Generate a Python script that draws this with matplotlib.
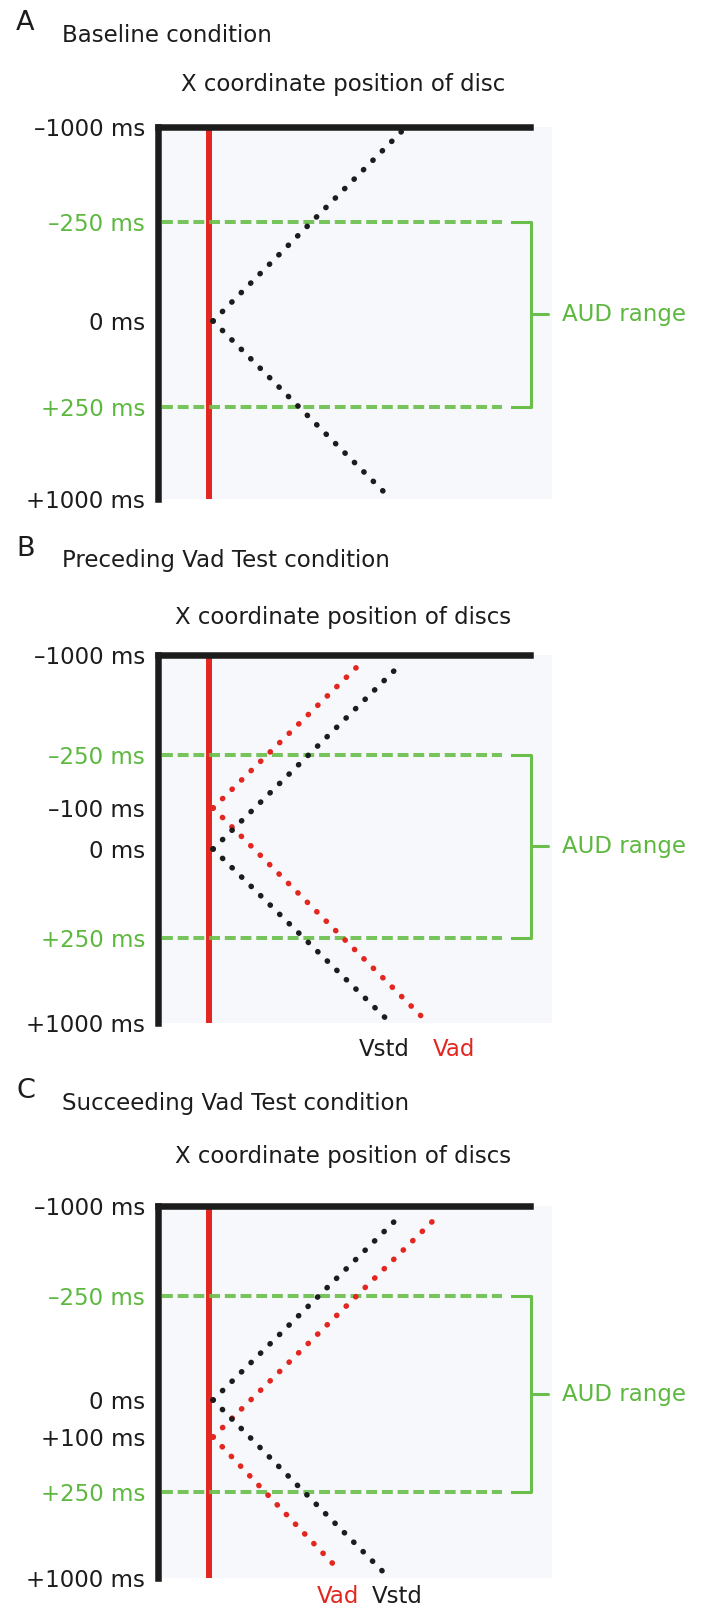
import numpy as np
import matplotlib
matplotlib.use('Agg')
from matplotlib import pyplot as plt

# time ticks (ms) and where each sits on the schematic time axis (px below the top bar)
a_tick_ms = [-1000, -250, 0, 250, 1000]
a_tick_rows = [0, 95, 194, 280, 372]
a_tick_labels = ['\u20131000 ms', '\u2013250 ms', '0 ms', '+250 ms', '+1000 ms']

b_tick_ms = [-1000, -250, -100, 0, 250, 1000]
b_tick_rows = [0, 100, 153, 194, 283, 368]
b_tick_labels = ['\u20131000 ms', '\u2013250 ms', '\u2013100 ms', '0 ms', '+250 ms', '+1000 ms']

c_tick_ms = [-1000, -250, 0, 100, 250, 1000]
c_tick_rows = [0, 90, 194, 231, 286, 372]
c_tick_labels = ['\u20131000 ms', '\u2013250 ms', '0 ms', '+100 ms', '+250 ms', '+1000 ms']

# disc trajectories: [start, flash (vertex), end] as (x position, time ms)
a_std_x = [244, 55, 231]
a_std_ms = [-968, 0, 984]

b_std_x = [244, 55, 232]
b_std_ms = [-940, 0, 995]
b_vad_x = [204, 55, 269]
b_vad_ms = [-948, -100, 990]

c_std_x = [245, 55, 231]
c_std_ms = [-942, 0, 998]
c_vad_x = [283, 55, 183]
c_vad_ms = [-942, 100, 950]

flash_x = 51
aud_range = [-250, 250]

W, H = 707, 1610
fs = 16.5
black = '#1c1c1c'
red = '#e3261f'
green = '#6abf4b'
green_txt = '#5db840'
bg = '#f6f8fb'

fig = plt.figure(figsize=(W / 100, H / 100), dpi=100)


def fx(px):
    return px / W


def fy(px):
    return 1 - px / H


def dotted(ax, xs, ms, color):
    # two branches going out from the vertex
    for sl in (slice(1, None, -1), slice(1, None)):
        ax.plot(xs[sl], ms[sl], color=color, lw=4.0, linestyle=(0, (0.05, 2.35)),
                dash_capstyle='round', zorder=4)


def panel(top, bottom, tick_ms, tick_rows, tick_labels):
    ax = fig.add_axes([fx(158), fy(bottom), fx(394), (bottom - top) / H])
    fwd = lambda v: np.interp(v, tick_ms, tick_rows)
    inv = lambda r: np.interp(r, tick_rows, tick_ms)
    ax.set_yscale('function', functions=(fwd, inv))
    ax.set_ylim(1000, -1000)
    ax.set_xlim(0, 394)
    ax.set_facecolor(bg)
    ax.set_xticks([])
    ax.set_yticks(tick_ms)
    ax.set_yticklabels(tick_labels)
    ax.minorticks_off()
    ax.tick_params(axis='y', length=0, pad=9.4, labelsize=fs)
    for lbl, v in zip(ax.get_yticklabels(), tick_ms):
        lbl.set_color(green_txt if abs(v) == 250 else black)
    for s in ('right', 'bottom'):
        ax.spines[s].set_visible(False)
    for s in ('left', 'top'):
        ax.spines[s].set_linewidth(4.7)
        ax.spines[s].set_color(black)
        ax.spines[s].set_capstyle('projecting')
    ax.spines['top'].set_bounds(0, 372)

    # flash position
    ax.plot([flash_x, flash_x], [-1000, 1000], color=red, lw=4.3, solid_capstyle='butt', zorder=2)

    # AUD range dashed lines + brace
    for t in aud_range:
        ax.plot([4, 344], [t, t], color=green, lw=2.9, linestyle=(0, (2.7, 1.2)),
                dash_capstyle='butt', zorder=3, alpha=0.9)
    mid = inv((fwd(aud_range[0]) + fwd(aud_range[1])) / 2)
    ax.plot([354, 373, 373, 373, 354], [aud_range[0], aud_range[0], mid, aud_range[1], aud_range[1]],
            color=green, lw=2.2, solid_joinstyle='round', zorder=3, clip_on=False)
    ax.plot([373, 390], [mid, mid], color=green, lw=2.2, solid_capstyle='round', zorder=3, clip_on=False)
    ax.text(404, mid, 'AUD range', color=green_txt, fontsize=fs, va='center', ha='left', clip_on=False)
    return ax


# Panel A
fig.text(fx(16), fy(23), 'A', fontsize=19.5, va='center', ha='left', color=black)
fig.text(fx(62), fy(36), 'Baseline condition', fontsize=fs, va='center', ha='left', color=black)
fig.text(fx(343), fy(85), 'X coordinate position of disc', fontsize=fs, va='center', ha='center', color=black)
ax_a = panel(127, 499, a_tick_ms, a_tick_rows, a_tick_labels)
dotted(ax_a, a_std_x, a_std_ms, black)

# Panel B
fig.text(fx(16), fy(549), 'B', fontsize=19.5, va='center', ha='left', color=black)
fig.text(fx(62), fy(561), 'Preceding Vad Test condition', fontsize=fs, va='center', ha='left', color=black)
fig.text(fx(343), fy(617), 'X coordinate position of discs', fontsize=fs, va='center', ha='center', color=black)
ax_b = panel(655, 1023, b_tick_ms, b_tick_rows, b_tick_labels)
dotted(ax_b, b_vad_x, b_vad_ms, red)
dotted(ax_b, b_std_x, b_std_ms, black)
fig.text(fx(384), fy(1049), 'Vstd', fontsize=fs, va='center', ha='center', color=black)
fig.text(fx(454), fy(1049), 'Vad', fontsize=fs, va='center', ha='center', color=red)

# Panel C
fig.text(fx(16), fy(1091), 'C', fontsize=19.5, va='center', ha='left', color=black)
fig.text(fx(62), fy(1103), 'Succeeding Vad Test condition', fontsize=fs, va='center', ha='left', color=black)
fig.text(fx(343), fy(1156), 'X coordinate position of discs', fontsize=fs, va='center', ha='center', color=black)
ax_c = panel(1206, 1578, c_tick_ms, c_tick_rows, c_tick_labels)
dotted(ax_c, c_vad_x, c_vad_ms, red)
dotted(ax_c, c_std_x, c_std_ms, black)
fig.text(fx(338), fy(1596), 'Vad', fontsize=fs, va='center', ha='center', color=red)
fig.text(fx(397), fy(1596), 'Vstd', fontsize=fs, va='center', ha='center', color=black)

fig.savefig('out.png', dpi=100, facecolor='white')
